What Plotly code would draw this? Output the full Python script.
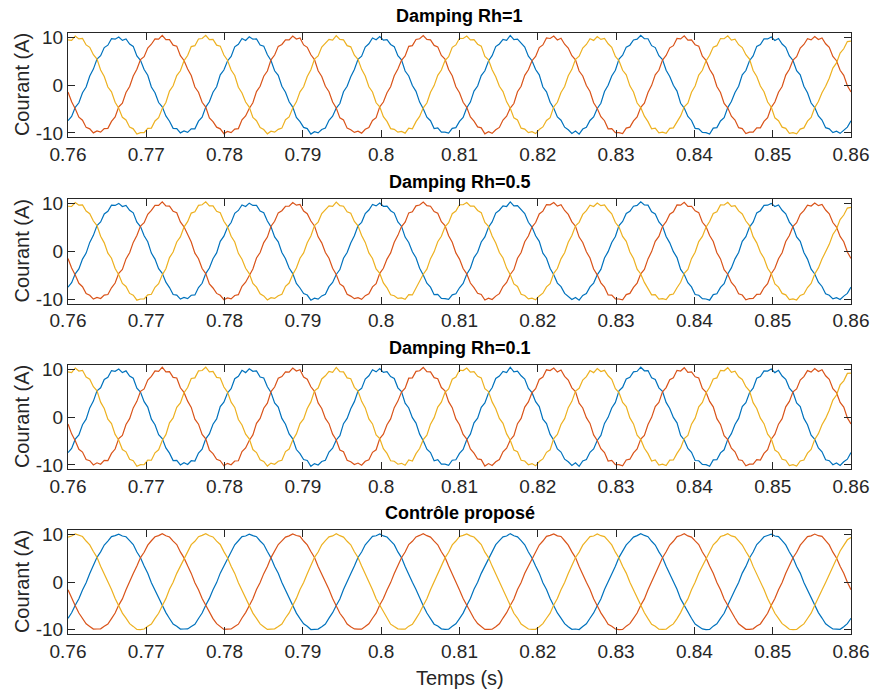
import plotly.graph_objects as go

# ---------------- data ----------------
t_start = 0.76          # s, first sample shown
f_hz = 60               # fundamental frequency read from peak spacing
samples_per_cycle = 36  # readings taken every 10 degrees

# phase a (blue), values in A
ia = [
    -7.7, -6.4, -5.0, -3.4, -1.7, 0.0, 1.7, 3.4, 5.0, 6.4, 7.7, 8.7, 9.4, 9.8, 10.0, 9.8, 9.4, 8.7,
    7.7, 6.4, 5.0, 3.4, 1.7, 0.0, -1.7, -3.4, -5.0, -6.4, -7.7, -8.7, -9.4, -9.8, -10.0, -9.8, -9.4, -8.7,
    -7.7, -6.4, -5.0, -3.4, -1.7, 0.0, 1.7, 3.4, 5.0, 6.4, 7.7, 8.7, 9.4, 9.8, 10.0, 9.8, 9.4, 8.7,
    7.7, 6.4, 5.0, 3.4, 1.7, 0.0, -1.7, -3.4, -5.0, -6.4, -7.7, -8.7, -9.4, -9.8, -10.0, -9.8, -9.4, -8.7,
    -7.7, -6.4, -5.0, -3.4, -1.7, 0.0, 1.7, 3.4, 5.0, 6.4, 7.7, 8.7, 9.4, 9.8, 10.0, 9.8, 9.4, 8.7,
    7.7, 6.4, 5.0, 3.4, 1.7, 0.0, -1.7, -3.4, -5.0, -6.4, -7.7, -8.7, -9.4, -9.8, -10.0, -9.8, -9.4, -8.7,
    -7.7, -6.4, -5.0, -3.4, -1.7, 0.0, 1.7, 3.4, 5.0, 6.4, 7.7, 8.7, 9.4, 9.8, 10.0, 9.8, 9.4, 8.7,
    7.7, 6.4, 5.0, 3.4, 1.7, 0.0, -1.7, -3.4, -5.0, -6.4, -7.7, -8.7, -9.4, -9.8, -10.0, -9.8, -9.4, -8.7,
    -7.7, -6.4, -5.0, -3.4, -1.7, 0.0, 1.7, 3.4, 5.0, 6.4, 7.7, 8.7, 9.4, 9.8, 10.0, 9.8, 9.4, 8.7,
    7.7, 6.4, 5.0, 3.4, 1.7, 0.0, -1.7, -3.4, -5.0, -6.4, -7.7, -8.7, -9.4, -9.8, -10.0, -9.8, -9.4, -8.7,
    -7.7, -6.4, -5.0, -3.4, -1.7, 0.0, 1.7, 3.4, 5.0, 6.4, 7.7, 8.7, 9.4, 9.8, 10.0, 9.8, 9.4, 8.7,
    7.7, 6.4, 5.0, 3.4, 1.7, 0.0, -1.7, -3.4, -5.0, -6.4, -7.7, -8.7, -9.4, -9.8, -10.0, -9.8, -9.4, -8.7,
    -7.7,
]

# phase b (orange)
ib = [
    -1.7, -3.4, -5.0, -6.4, -7.7, -8.7, -9.4, -9.8, -10.0, -9.8, -9.4, -8.7, -7.7, -6.4, -5.0, -3.4, -1.7, 0.0,
    1.7, 3.4, 5.0, 6.4, 7.7, 8.7, 9.4, 9.8, 10.0, 9.8, 9.4, 8.7, 7.7, 6.4, 5.0, 3.4, 1.7, 0.0,
    -1.7, -3.4, -5.0, -6.4, -7.7, -8.7, -9.4, -9.8, -10.0, -9.8, -9.4, -8.7, -7.7, -6.4, -5.0, -3.4, -1.7, 0.0,
    1.7, 3.4, 5.0, 6.4, 7.7, 8.7, 9.4, 9.8, 10.0, 9.8, 9.4, 8.7, 7.7, 6.4, 5.0, 3.4, 1.7, 0.0,
    -1.7, -3.4, -5.0, -6.4, -7.7, -8.7, -9.4, -9.8, -10.0, -9.8, -9.4, -8.7, -7.7, -6.4, -5.0, -3.4, -1.7, 0.0,
    1.7, 3.4, 5.0, 6.4, 7.7, 8.7, 9.4, 9.8, 10.0, 9.8, 9.4, 8.7, 7.7, 6.4, 5.0, 3.4, 1.7, 0.0,
    -1.7, -3.4, -5.0, -6.4, -7.7, -8.7, -9.4, -9.8, -10.0, -9.8, -9.4, -8.7, -7.7, -6.4, -5.0, -3.4, -1.7, 0.0,
    1.7, 3.4, 5.0, 6.4, 7.7, 8.7, 9.4, 9.8, 10.0, 9.8, 9.4, 8.7, 7.7, 6.4, 5.0, 3.4, 1.7, 0.0,
    -1.7, -3.4, -5.0, -6.4, -7.7, -8.7, -9.4, -9.8, -10.0, -9.8, -9.4, -8.7, -7.7, -6.4, -5.0, -3.4, -1.7, 0.0,
    1.7, 3.4, 5.0, 6.4, 7.7, 8.7, 9.4, 9.8, 10.0, 9.8, 9.4, 8.7, 7.7, 6.4, 5.0, 3.4, 1.7, 0.0,
    -1.7, -3.4, -5.0, -6.4, -7.7, -8.7, -9.4, -9.8, -10.0, -9.8, -9.4, -8.7, -7.7, -6.4, -5.0, -3.4, -1.7, 0.0,
    1.7, 3.4, 5.0, 6.4, 7.7, 8.7, 9.4, 9.8, 10.0, 9.8, 9.4, 8.7, 7.7, 6.4, 5.0, 3.4, 1.7, 0.0,
    -1.7,
]

# phase c (yellow)
ic = [
    9.4, 9.8, 10.0, 9.8, 9.4, 8.7, 7.7, 6.4, 5.0, 3.4, 1.7, 0.0, -1.7, -3.4, -5.0, -6.4, -7.7, -8.7,
    -9.4, -9.8, -10.0, -9.8, -9.4, -8.7, -7.7, -6.4, -5.0, -3.4, -1.7, 0.0, 1.7, 3.4, 5.0, 6.4, 7.7, 8.7,
    9.4, 9.8, 10.0, 9.8, 9.4, 8.7, 7.7, 6.4, 5.0, 3.4, 1.7, 0.0, -1.7, -3.4, -5.0, -6.4, -7.7, -8.7,
    -9.4, -9.8, -10.0, -9.8, -9.4, -8.7, -7.7, -6.4, -5.0, -3.4, -1.7, 0.0, 1.7, 3.4, 5.0, 6.4, 7.7, 8.7,
    9.4, 9.8, 10.0, 9.8, 9.4, 8.7, 7.7, 6.4, 5.0, 3.4, 1.7, 0.0, -1.7, -3.4, -5.0, -6.4, -7.7, -8.7,
    -9.4, -9.8, -10.0, -9.8, -9.4, -8.7, -7.7, -6.4, -5.0, -3.4, -1.7, 0.0, 1.7, 3.4, 5.0, 6.4, 7.7, 8.7,
    9.4, 9.8, 10.0, 9.8, 9.4, 8.7, 7.7, 6.4, 5.0, 3.4, 1.7, 0.0, -1.7, -3.4, -5.0, -6.4, -7.7, -8.7,
    -9.4, -9.8, -10.0, -9.8, -9.4, -8.7, -7.7, -6.4, -5.0, -3.4, -1.7, 0.0, 1.7, 3.4, 5.0, 6.4, 7.7, 8.7,
    9.4, 9.8, 10.0, 9.8, 9.4, 8.7, 7.7, 6.4, 5.0, 3.4, 1.7, 0.0, -1.7, -3.4, -5.0, -6.4, -7.7, -8.7,
    -9.4, -9.8, -10.0, -9.8, -9.4, -8.7, -7.7, -6.4, -5.0, -3.4, -1.7, 0.0, 1.7, 3.4, 5.0, 6.4, 7.7, 8.7,
    9.4, 9.8, 10.0, 9.8, 9.4, 8.7, 7.7, 6.4, 5.0, 3.4, 1.7, 0.0, -1.7, -3.4, -5.0, -6.4, -7.7, -8.7,
    -9.4, -9.8, -10.0, -9.8, -9.4, -8.7, -7.7, -6.4, -5.0, -3.4, -1.7, 0.0, 1.7, 3.4, 5.0, 6.4, 7.7, 8.7,
    9.4,
]

# switching ripple read as small jagged offsets (relative units)
ripple = [
    0.5, -0.3, 0.7, -0.6, 0.2, -0.8, 0.4, -0.1, 0.9, -0.5, 0.3, -0.7, 0.6, -0.4, 0.1, -0.9, 0.5, -0.2,
    0.8, -0.6, 0.4, -0.3, 0.7, -0.8, 0.2, -0.5, 0.9, -0.1, 0.3, -0.7, 0.6, -0.4, 0.8, -0.2, 0.5, -0.9,
    0.3, -0.6, 0.8, -0.2, 0.4, -0.7, 0.9, -0.5, 0.1, -0.8, 0.6, -0.3, 0.7, -0.9, 0.2, -0.4, 0.5, -0.6,
    0.9, -0.1, 0.3, -0.8, 0.7, -0.5, 0.4, -0.2, 0.8, -0.7, 0.1, -0.3, 0.6, -0.9, 0.5, -0.4, 0.2, -0.6,
    0.7, -0.2, 0.4, -0.9, 0.6, -0.5, 0.1, -0.3, 0.8, -0.7, 0.5, -0.1, 0.9, -0.6, 0.3, -0.8, 0.2, -0.4,
    0.7, -0.5, 0.6, -0.9, 0.4, -0.2, 0.8, -0.3, 0.1, -0.6, 0.5, -0.8, 0.9, -0.1, 0.3, -0.5, 0.7, -0.4,
    0.2, -0.7, 0.5, -0.3, 0.9, -0.4, 0.6, -0.8, 0.1, -0.5, 0.7, -0.2, 0.3, -0.9, 0.8, -0.6, 0.4, -0.1,
    0.5, -0.7, 0.2, -0.3, 0.9, -0.8, 0.6, -0.4, 0.3, -0.5, 0.7, -0.2, 0.1, -0.6, 0.8, -0.9, 0.4, -0.3,
    0.6, -0.5, 0.2, -0.8, 0.7, -0.1, 0.4, -0.6, 0.9, -0.3, 0.5, -0.7, 0.1, -0.4, 0.8, -0.2, 0.6, -0.9,
    0.3, -0.5, 0.7, -0.6, 0.2, -0.1, 0.9, -0.8, 0.4, -0.3, 0.6, -0.7, 0.5, -0.2, 0.1, -0.9, 0.8, -0.4,
    0.4, -0.8, 0.6, -0.1, 0.3, -0.5, 0.9, -0.7, 0.2, -0.6, 0.8, -0.4, 0.5, -0.3, 0.1, -0.9, 0.7, -0.2,
    0.4, -0.6, 0.3, -0.8, 0.9, -0.5, 0.2, -0.7, 0.6, -0.1, 0.8, -0.4, 0.5, -0.3, 0.7, -0.6, 0.1, -0.2,
    0.5,
]

panel_titles = ["Damping Rh=1", "Damping Rh=0.5", "Damping Rh=0.1", "Contrôle proposé"]
ripple_gain = [0.5, 0.45, 0.55, 0.18]   # A per ripple unit, per panel

x_tick_vals = [0.76, 0.77, 0.78, 0.79, 0.80, 0.81, 0.82, 0.83, 0.84, 0.85, 0.86]
x_tick_text = ["0.76", "0.77", "0.78", "0.79", "0.8", "0.81", "0.82", "0.83", "0.84", "0.85", "0.86"]
y_tick_vals = [-10, 0, 10]
y_tick_text = ["-10", "0", "10"]

x_label = "Temps (s)"
y_label = "Courant (A)"

# ---------------- styling / layout ----------------
colors = ["#0072BD", "#D95319", "#EDB120"]
W, H = 871, 695
ML, MR, MT, MB = 68, 20, 33, 61          # plot area: x 68..851, y 33..634
PW, PH = W - ML - MR, H - MT - MB
panel_tops_px = [33.0, 199.3, 365.0, 530.0]
panel_h_px = 104.2
font_family = "Liberation Sans, Arial, Helvetica, sans-serif"
axis_col = "#262626"


def px_x(px):
    return (px - ML) / PW


def px_y(py):
    return (H - MB - py) / PH


n = min(len(ia), len(ib), len(ic), len(ripple))
t = [t_start + k / (f_hz * samples_per_cycle) for k in range(n)]
ripple_rev = ripple[::-1]

fig = go.Figure()
annotations = []

for p in range(4):
    g = ripple_gain[p]
    ax = "" if p == 0 else str(p + 1)
    phases = [
        [ia[k] + g * ripple[k] for k in range(n)],
        [ib[k] + g * ripple_rev[k] for k in range(n)],
        [ic[k] - g * ripple[(k + 7) % n] for k in range(n)],
    ]
    for j in range(3):
        fig.add_trace(go.Scatter(
            x=t, y=phases[j], mode="lines",
            line=dict(color=colors[j], width=1.2),
            xaxis="x" + ax, yaxis="y" + ax, showlegend=False, hoverinfo="skip",
        ))
    top = panel_tops_px[p]
    bot = min(top + panel_h_px, H - MB)
    ydom = [max(0.0, px_y(bot)), min(1.0, px_y(top))]
    common = dict(
        showline=True, linecolor=axis_col, linewidth=1, mirror="ticks",
        ticks="inside", ticklen=7, tickwidth=1, tickcolor=axis_col,
        showgrid=False, zeroline=False, automargin=False,
        tickfont=dict(family=font_family, size=19, color=axis_col),
    )
    fig.update_layout({
        "xaxis" + ax: dict(domain=[0, 1], anchor="y" + ax, range=[0.76, 0.86],
                           tickmode="array", tickvals=x_tick_vals, ticktext=x_tick_text, **common),
        "yaxis" + ax: dict(domain=ydom, anchor="x" + ax, range=[-10.9, 10.9],
                           tickmode="array", tickvals=y_tick_vals, ticktext=y_tick_text,
                           **common),
    })
    annotations.append(dict(
        text="<b>" + panel_titles[p] + "</b>", x=0.5, y=px_y(top - 17),
        xref="paper", yref="paper", xanchor="center", yanchor="middle", showarrow=False,
        font=dict(family=font_family, size=18, color="#000000"),
    ))
    annotations.append(dict(
        text=y_label, x=px_x(22), y=px_y(top + panel_h_px / 2), textangle=-90,
        xref="paper", yref="paper", xanchor="center", yanchor="middle", showarrow=False,
        font=dict(family=font_family, size=20, color=axis_col),
    ))

annotations.append(dict(
    text=x_label, x=0.5, y=px_y(678), xref="paper", yref="paper",
    xanchor="center", yanchor="middle", showarrow=False,
    font=dict(family=font_family, size=20, color=axis_col),
))

fig.update_layout(
    width=W, height=H, autosize=False,
    margin=dict(l=ML, r=MR, t=MT, b=MB, pad=0),
    paper_bgcolor="white", plot_bgcolor="white",
    annotations=annotations,
)

fig.write_html(
    "out.html",
    config={"displayModeBar": False, "staticPlot": True},
    post_script="document.body.style.margin='0';document.body.style.padding='0';",
)
